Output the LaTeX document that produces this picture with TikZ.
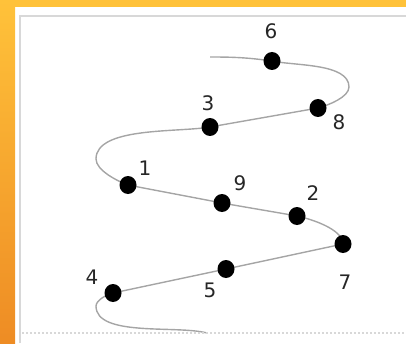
\documentclass[tikz,border=0pt]{standalone}
\usepackage{fontspec}
\setsansfont{DejaVu Sans}
\usetikzlibrary{positioning,backgrounds,shapes.geometric}
\definecolor{amber}{RGB}{255,194,58}
\definecolor{tangerine}{RGB}{238,140,36}
\definecolor{frame}{RGB}{216,216,216}
\definecolor{coil}{RGB}{165,165,165}

\tikzset{
  bead/.style={ellipse,fill=black,inner sep=0pt,outer sep=0pt,minimum width=17pt,minimum height=18pt},
  num/.style={inner sep=0pt,font=\fontsize{20}{22}\selectfont\sffamily,text=black!85}
}

\begin{document}
\begin{tikzpicture}[x=1pt,y=1pt]
\useasboundingbox (0,0) rectangle (406,343);
% backdrop
\shade[top color=amber,bottom color=tangerine] (0,0) rectangle (15,343);
\fill[amber] (15,336) rectangle (406,343);
\draw[frame,line width=2pt] (20,0) -- (20,327) -- (406,327);
\draw[frame,line width=2pt,dotted] (22,10) -- (406,10);

% beads
\node[bead] (d6) at (272,282) {};
\node[bead] (d8) at (318,235) {};
\node[bead] (d3) at (210,216) {};
\node[bead] (d1) at (128,158) {};
\node[bead] (d9) at (222,140) {};
\node[bead] (d2) at (297,127) {};
\node[bead] (d7) at (343,99) {};
\node[bead] (d5) at (226,74) {};
\node[bead] (d4) at (113,50) {};

% ends and turns of the coil
\coordinate (top) at (210,286);
\coordinate (tA) at (349,256);
\coordinate (tB) at (96,184);
\coordinate (tC) at (96,37);
\coordinate (bottom) at (207,10);

\begin{scope}[on background layer]
\draw[coil,line width=1.4pt]
  (top) to[out=0,in=172] (d6.center)
  to[out=-12,in=90,looseness=0.75] (tA)
  to[out=-90,in=15,looseness=0.7] (d8.center)
  to[out=190,in=10] (d3.center)
  to[out=190,in=90,looseness=0.7] (tB)
  to[out=-90,in=160,looseness=0.7] (d1.center)
  to[out=-11,in=169] (d9.center)
  to[out=-10,in=170] (d2.center)
  to[out=-12,in=90,looseness=0.7] (d7.center)
  to[out=192,in=12] (d5.center)
  to[out=192,in=12] (d4.center)
  to[out=192,in=90,looseness=0.7] (tC)
  to[out=-90,in=165,looseness=0.7] (bottom);
\end{scope}

% numbers
\node[num] (n6) at ([shift={(-1pt,30pt)}]d6) {6};
\node[num] (n8) at ([shift={(21pt,-14pt)}]d8) {8};
\node[num] (n3) at ([shift={(-2pt,24pt)}]d3) {3};
\node[num] (n1) at ([shift={(17pt,17pt)}]d1) {1};
\node[num] (n9) at ([shift={(18pt,20pt)}]d9) {9};
\node[num] (n2) at ([shift={(16pt,23pt)}]d2) {2};
\node[num] (n7) at ([shift={(2pt,-38pt)}]d7) {7};
\node[num] (n5) at ([shift={(-16pt,-21pt)}]d5) {5};
\node[num] (n4) at ([shift={(-21pt,16pt)}]d4) {4};
\end{tikzpicture}
\end{document}
